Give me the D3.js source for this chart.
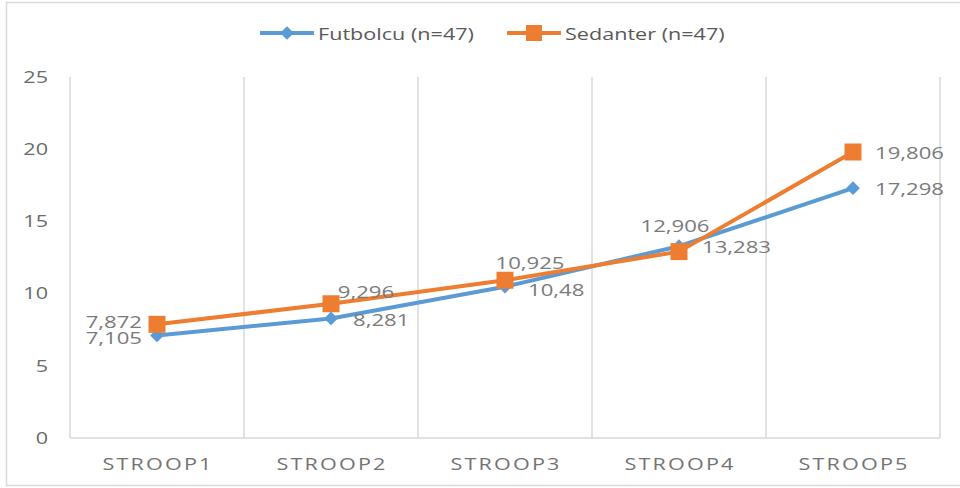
<!DOCTYPE html>
<html>
<head>
<meta charset="utf-8">
<script src="https://cdn.jsdelivr.net/npm/d3@7"></script>
<style>
  body { margin: 0; background: #fff; }
  text { font-family: "Open Sans", "Noto Sans", sans-serif; }
</style>
</head>
<body>
<script>
// chart data
const categories = ["STROOP1", "STROOP2", "STROOP3", "STROOP4", "STROOP5"];
const futbolcu = [7.105, 8.281, 10.48, 13.283, 17.298];
const sedanter = [7.872, 9.296, 10.925, 12.906, 19.806];
const futbolcuLabels = ["7,105", "8,281", "10,48", "13,283", "17,298"];
const sedanterLabels = ["7,872", "9,296", "10,925", "12,906", "19,806"];
const yTicks = [0, 5, 10, 15, 20, 25];

const width = 960, height = 488;
// the source picture is stretched sideways, so text is too
const SX = 1.35;

const svg = d3.select("body").append("svg")
    .attr("width", width).attr("height", height);

// outer frame
svg.append("rect")
    .attr("x", 6.5).attr("y", 2.5)
    .attr("width", 960).attr("height", 483)
    .attr("fill", "none").attr("stroke", "#d9d9d9").attr("stroke-width", 1.5);

const plotLeft = 70, plotRight = 940, plotTop = 77, plotBottom = 438;

const x = d3.scaleBand().domain(categories).range([plotLeft, plotRight]);
const y = d3.scaleLinear().domain([0, 25]).range([plotBottom, plotTop]);
const cx = c => x(c) + x.bandwidth() / 2;

const at = (px, py) => `translate(${px},${py}) scale(${SX},1)`;

// vertical gridlines between categories
const edges = categories.map(c => x(c)).concat([plotRight]);
svg.selectAll("line.grid").data(edges).join("line")
    .attr("class", "grid")
    .attr("x1", d => d).attr("x2", d => d)
    .attr("y1", plotTop).attr("y2", plotBottom)
    .attr("stroke", "#d9d9d9").attr("stroke-width", 1.5);

// x axis line
svg.append("line")
    .attr("x1", plotLeft).attr("x2", plotRight)
    .attr("y1", plotBottom).attr("y2", plotBottom)
    .attr("stroke", "#d9d9d9").attr("stroke-width", 1.5);

// y tick labels
svg.selectAll("text.ytick").data(yTicks).join("text")
    .attr("class", "ytick")
    .attr("transform", d => at(48, y(d)))
    .attr("dy", "0.36em")
    .attr("text-anchor", "end")
    .attr("fill", "#6b6b6b")
    .style("font-size", "16px")
    .text(d => d);

// category labels
svg.selectAll("text.xtick").data(categories).join("text")
    .attr("class", "xtick")
    .attr("transform", d => at(cx(d) + 1, 464))
    .attr("dy", "0.36em")
    .attr("text-anchor", "middle")
    .attr("fill", "#737373")
    .style("font-size", "16px")
    .style("letter-spacing", "1.6px")
    .text(d => d);

const line = d3.line().x((d, i) => cx(categories[i])).y(d => y(d));

const blue = "#5b9bd5", orange = "#ed7d31";

// Futbolcu series
svg.append("path").datum(futbolcu)
    .attr("d", line).attr("fill", "none")
    .attr("stroke", blue).attr("stroke-width", 4)
    .attr("stroke-linejoin", "round");
const diamond = d3.symbol().type(d3.symbolDiamond2).size(120);
svg.selectAll("path.fmark").data(futbolcu).join("path")
    .attr("class", "fmark")
    .attr("d", diamond)
    .attr("transform", (d, i) => `translate(${cx(categories[i])},${y(d)})`)
    .attr("fill", blue);

// Sedanter series
svg.append("path").datum(sedanter)
    .attr("d", line).attr("fill", "none")
    .attr("stroke", orange).attr("stroke-width", 4)
    .attr("stroke-linejoin", "round");
svg.selectAll("rect.smark").data(sedanter).join("rect")
    .attr("class", "smark")
    .attr("x", (d, i) => cx(categories[i]) - 8.5)
    .attr("y", d => y(d) - 8.5)
    .attr("width", 17).attr("height", 17)
    .attr("fill", orange);

// data label placement: anchor, dx, dy from marker centre
const fPos = [["end", -15, 3], ["start", 22, 2], ["start", 23, 3], ["start", 23, 1], ["start", 22, 1]];
const sPos = [["end", -15, -2], ["middle", 35, -12], ["middle", 25, -17], ["middle", -4, -26], ["start", 22, 1]];

function drawLabels(vals, labels, pos, cls) {
    svg.selectAll("text." + cls).data(vals).join("text")
        .attr("class", cls)
        .attr("transform", (d, i) => at(cx(categories[i]) + pos[i][1], y(d) + pos[i][2]))
        .attr("dy", "0.36em")
        .attr("text-anchor", (d, i) => pos[i][0])
        .attr("fill", "#7a7a7a")
        .style("font-size", "16.4px")
        .text((d, i) => labels[i]);
}
drawLabels(futbolcu, futbolcuLabels, fPos, "flab");
drawLabels(sedanter, sedanterLabels, sPos, "slab");

// legend
const legend = svg.append("g");
const items = [
    {name: "Futbolcu (n=47)", color: blue, x: 260},
    {name: "Sedanter (n=47)", color: orange, x: 507}
];
items.forEach(it => {
    legend.append("line")
        .attr("x1", it.x).attr("x2", it.x + 54)
        .attr("y1", 33).attr("y2", 33)
        .attr("stroke", it.color).attr("stroke-width", 4);
    if (it.color === blue) {
        legend.append("path")
            .attr("d", diamond)
            .attr("transform", `translate(${it.x + 27},33)`)
            .attr("fill", blue);
    } else {
        legend.append("rect")
            .attr("x", it.x + 19).attr("y", 25)
            .attr("width", 16).attr("height", 16)
            .attr("fill", orange);
    }
    legend.append("text")
        .attr("transform", at(it.x + 58, 34))
        .attr("dy", "0.36em")
        .attr("fill", "#595959")
        .style("font-size", "16px")
        .text(it.name);
});
</script>
</body>
</html>
